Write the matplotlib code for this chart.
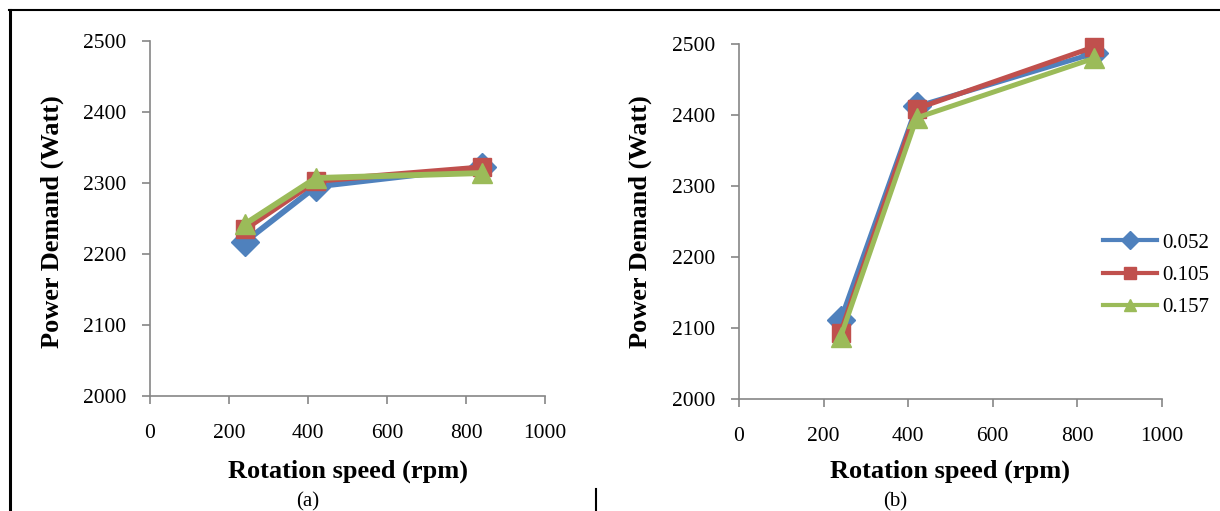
import numpy as np
import matplotlib
matplotlib.use("Agg")
import matplotlib.pyplot as plt
from matplotlib.lines import Line2D

### donnees
speed = [240, 420, 840]  # rpm
series_names = ['0.052', '0.105', '0.157']

power_a_052 = [2217, 2295, 2322]
power_a_105 = [2235, 2303, 2322]
power_a_157 = [2242, 2307, 2314]

power_b_052 = [2111, 2412, 2487]
power_b_105 = [2093, 2409, 2496]
power_b_157 = [2087, 2396, 2480]

colors = ['#4F81BD', '#C0504D', '#9BBB59']
markers = ['D', 's', '^']

plt.rcParams['font.family'] = ['Liberation Serif', 'DejaVu Serif']

W, H = 1220, 511
fig = plt.figure(figsize=(W / 100, H / 100), dpi=100)
ax1 = fig.add_axes([150 / W, 1 - 396 / H, 395 / W, 355 / H])
ax2 = fig.add_axes([739 / W, 1 - 399 / H, 423 / W, 355 / H])

###############################################################################
def style_axes(ax, xlab_pos, ylab_pos):
    for s in ['top', 'right']:
        ax.spines[s].set_visible(False)
    for s in ['left', 'bottom']:
        ax.spines[s].set_color('#868686')
        ax.spines[s].set_linewidth(1.2)
    ax.set_xlim(0, 1000)
    ax.set_ylim(2000, 2500)
    ax.set_xticks(np.arange(0, 1001, 200))
    ax.set_yticks(np.arange(2000, 2501, 100))
    ax.tick_params(direction='out', length=6, width=1.2, color='#868686',
                   labelsize=15.5)
    ax.tick_params(axis='y', pad=11)
    ax.tick_params(axis='x', pad=14)
    ax.set_xlabel('Rotation speed (rpm)', fontsize=19, fontweight='bold')
    ax.set_ylabel('Power Demand (Watt)', fontsize=19, fontweight='bold')
    ax.xaxis.set_label_coords(*xlab_pos)
    ax.yaxis.set_label_coords(*ylab_pos)
    ax.xaxis.label.set_verticalalignment('center')
    ax.yaxis.label.set_verticalalignment('center')

# (a)
data_a = [power_a_052, power_a_105, power_a_157]
sizes = [14, 13, 15]
for vals, c, m, ms, name in zip(data_a, colors, markers, sizes, series_names):
    ax1.plot(speed, vals, color=c, marker=m, markersize=ms, linewidth=4.2,
             label=name, clip_on=False)
style_axes(ax1, ((348 - 150) / 395, (396 - 471) / 355),
           ((52 - 150) / 395, (396 - 222) / 355))

# (b)
data_b = [power_b_052, power_b_105, power_b_157]
for vals, c, m, ms, name in zip(data_b, colors, markers, sizes, series_names):
    ax2.plot(speed, vals, color=c, marker=m, markersize=ms, linewidth=3.6,
             label=name, clip_on=False)
style_axes(ax2, ((950 - 739) / 423, (399 - 471) / 355),
           ((640 - 739) / 423, (399 - 222) / 355))

# legende avec des marqueurs plus petits
handles = [Line2D([], [], color=c, marker=m, markersize=9, linewidth=3)
           for c, m in zip(colors, markers)]
fig.legend(handles, series_names, loc='center left',
           bbox_to_anchor=(1103 / W, 1 - 275 / H), frameon=False, fontsize=15,
           handlelength=2.6, handletextpad=0.25, labelspacing=0.6,
           borderpad=0, borderaxespad=0)

# legendes (a) et (b)
fig.text(308 / W, 1 - 502 / H, '(a)', ha='center', va='center', fontsize=15)
fig.text(895 / W, 1 - 502 / H, '(b)', ha='center', va='center', fontsize=15)

# bordures du tableau
fig.add_artist(Line2D([9 / W, 1], [1 - 10 / H, 1 - 10 / H],
                      color='black', linewidth=1.5))
fig.add_artist(Line2D([10 / W, 10 / W], [0, 1 - 10 / H],
                      color='black', linewidth=2.2))
fig.add_artist(Line2D([596 / W, 596 / W], [0, 1 - 489 / H],
                      color='black', linewidth=1.5))

fig.savefig('out.png', dpi=100)
